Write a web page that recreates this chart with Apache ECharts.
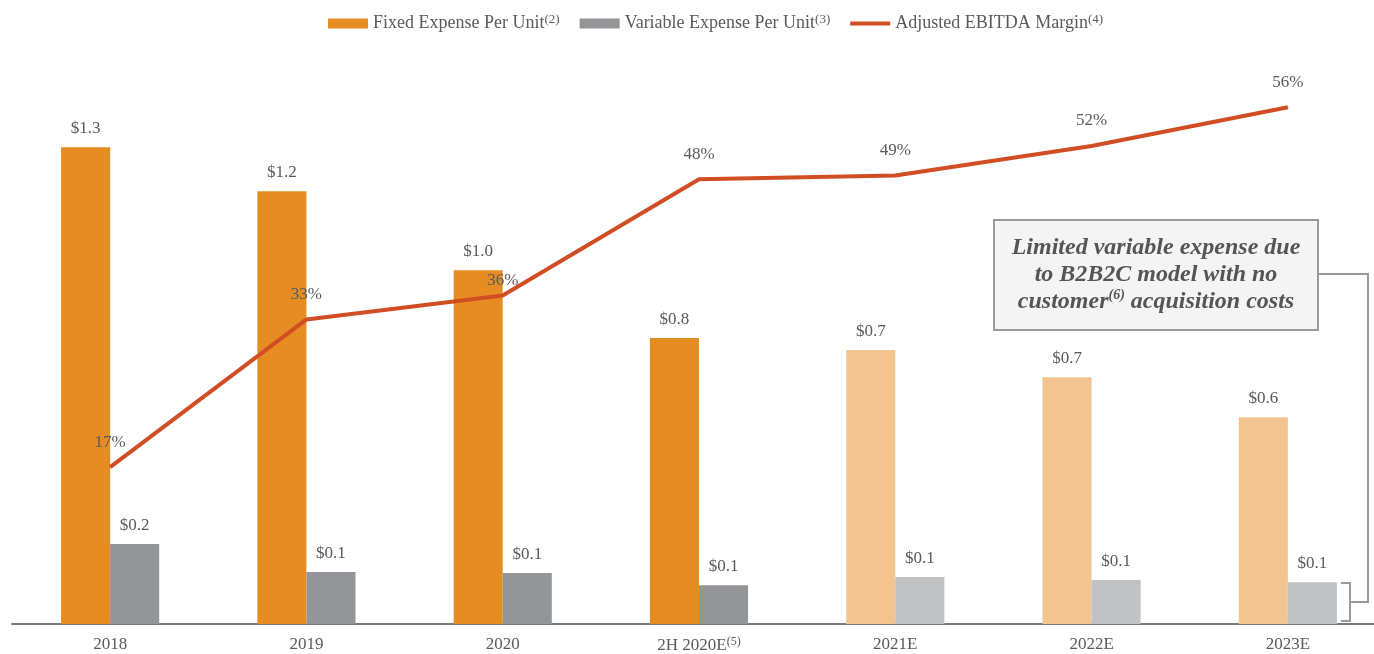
<!DOCTYPE html>
<html>
<head>
<meta charset="utf-8">
<script src="https://cdn.jsdelivr.net/npm/echarts@6/dist/echarts.min.js"></script>
<style>html,body{margin:0;padding:0;background:#fff}#c{width:1374px;height:654px}</style>
</head>
<body>
<div id="c"></div>
<script>
const categories = ['2018', '2019', '2020', '2H 2020E', '2021E', '2022E', '2023E'];
const categoryNotes = ['', '', '', '(5)', '', '', ''];
const fixedExpense = [1.30, 1.18, 0.965, 0.78, 0.747, 0.673, 0.564];
const variableExpense = [0.218, 0.142, 0.139, 0.106, 0.128, 0.12, 0.114];
const ebitdaMargin = [17, 33, 35.6, 48.2, 48.6, 51.8, 56];
const seriesNames = ['Fixed Expense Per Unit', 'Variable Expense Per Unit', 'Adjusted EBITDA Margin'];
const seriesNotes = ['(2)', '(3)', '(4)'];
const firstEstimate = 4;

const FONT = 'Liberation Serif';
const TXT = '#5a5a5a';
const ORANGE = '#E58D22', ORANGE_L = '#F2C48F', GREY = '#939598', GREY_L = '#C1C2C4', RED = '#D14E24';
const chart = echarts.init(document.getElementById('c'));

const barLabel = {
  show: true, position: 'top', distance: 10,
  fontFamily: FONT, fontSize: 17, color: TXT,
  formatter: p => '$' + p.value.toFixed(1)
};
const supStyle = {fontFamily: FONT, fontSize: 12, color: TXT, verticalAlign: 'top', padding: [0, 0, 8, 0]};

chart.setOption({
  animation: false,
  legend: {
    top: 8, left: 323, itemGap: 20, itemWidth: 40, itemHeight: 10,
    data: [
      {name: seriesNames[0], icon: 'rect', itemStyle: {color: ORANGE}},
      {name: seriesNames[1], icon: 'rect', itemStyle: {color: GREY}},
      {name: seriesNames[2], icon: 'path://M0,0 L40,0 L40,4 L0,4 Z', itemStyle: {color: RED}}
    ],
    formatter: n => n + '{s|' + seriesNotes[seriesNames.indexOf(n)] + '}',
    textStyle: {fontFamily: FONT, fontSize: 18, color: TXT, rich: {s: Object.assign({}, supStyle, {fontSize: 13})}}
  },
  grid: {left: 12, width: 1374, top: 74, bottom: 30, containLabel: false, outerBoundsMode: 'none'},
  xAxis: {
    type: 'category', data: categories,
    axisLine: {lineStyle: {color: '#7a7a7a', width: 2}},
    axisTick: {show: false},
    axisLabel: {
      margin: 12, fontFamily: FONT, fontSize: 17, color: TXT,
      formatter: (v, i) => v + (categoryNotes[i] ? '{s|' + categoryNotes[i] + '}' : ''),
      rich: {s: supStyle}
    }
  },
  yAxis: [
    {type: 'value', min: 0, max: 1.5, show: false, splitLine: {show: false}},
    {type: 'value', min: 0, max: 59.6, show: false, splitLine: {show: false}}
  ],
  series: [
    {
      name: seriesNames[0], type: 'bar', barGap: '0%', barCategoryGap: '50%',
      data: fixedExpense,
      itemStyle: {color: p => p.dataIndex >= firstEstimate ? ORANGE_L : ORANGE},
      label: barLabel
    },
    {
      name: seriesNames[1], type: 'bar',
      data: variableExpense,
      itemStyle: {color: p => p.dataIndex >= firstEstimate ? GREY_L : GREY},
      label: barLabel
    },
    {
      name: seriesNames[2], type: 'line', yAxisIndex: 1, symbol: 'circle', symbolSize: 1, showSymbol: true, z: 5,
      data: ebitdaMargin.map((v, i) => i === 2 ? {value: v, label: {distance: 6}} : v),
      lineStyle: {color: RED, width: 4},
      itemStyle: {color: RED},
      label: {
        show: true, position: 'top', distance: 16,
        fontFamily: FONT, fontSize: 17, color: TXT,
        formatter: p => Math.round(p.value) + '%'
      }
    }
  ],
  graphic: [
    {
      type: 'rect', z: 10,
      shape: {x: 994, y: 220, width: 324, height: 110},
      style: {fill: '#F4F4F4', stroke: '#9a9a9a', lineWidth: 2}
    },
    {
      type: 'text', z: 11, x: 1156, y: 275,
      style: {
        text: 'Limited variable expense due\nto B2B2C model with no\ncustomer{s|(6)} acquisition costs',
        align: 'center', verticalAlign: 'middle',
        fontFamily: FONT, fontSize: 24, fontStyle: 'italic', fontWeight: 'bold',
        fill: '#555', lineHeight: 27,
        rich: {s: {fontFamily: FONT, fontSize: 14, fontStyle: 'italic', fontWeight: 'bold', fill: '#555', verticalAlign: 'top', padding: [0, 0, 10, 0]}}
      }
    },
    {
      type: 'polyline', z: 10,
      shape: {points: [[1318, 274], [1368, 274], [1368, 602], [1350, 602]]},
      style: {stroke: '#9a9a9a', lineWidth: 2, fill: null}
    },
    {
      type: 'polyline', z: 10,
      shape: {points: [[1341, 583], [1350, 583], [1350, 621], [1341, 621]]},
      style: {stroke: '#9a9a9a', lineWidth: 2, fill: null}
    }
  ]
});
</script>
</body>
</html>
